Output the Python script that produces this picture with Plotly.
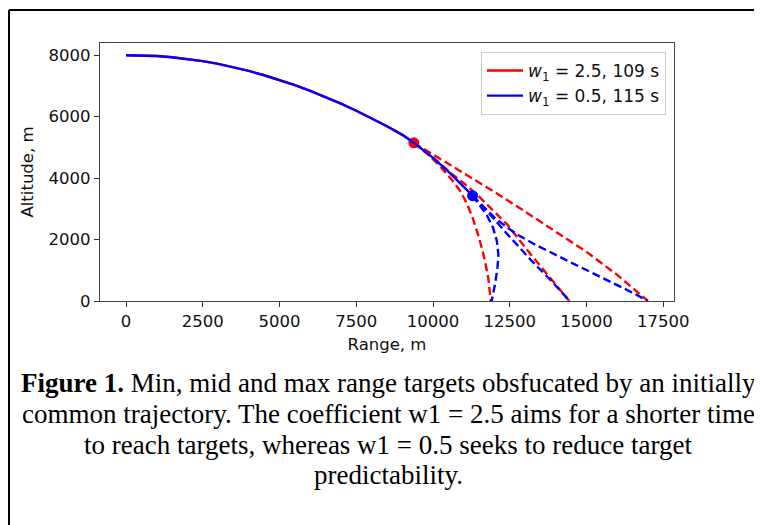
import plotly.graph_objects as go

# ---- data ----
common_x = [0, 500, 1000, 1500, 2000, 2500, 3000, 3500, 4000, 4500, 5000, 5500,
            6000, 6500, 7000, 7500, 8000, 8500, 9000, 9375]
common_y = [8000, 7995, 7975, 7935, 7880, 7810, 7720, 7610, 7490, 7350, 7195, 7025,
            6840, 6640, 6425, 6195, 5950, 5690, 5410, 5150]

blue_solid_x = [9375, 9750, 10000, 10500, 11000, 11287]
blue_solid_y = [5150, 4860, 4660, 4210, 3720, 3429]

red_min_x = [9375, 9800, 10200, 10600, 10900, 11100, 11300, 11500, 11666, 11800, 11880]
red_min_y = [5150, 4800, 4420, 3960, 3560, 3180, 2680, 2050, 1425, 750, 0]
red_mid_x = [9375, 10000, 10524, 11069, 11500, 12000, 12427, 13080, 13622, 14057, 14440]
red_mid_y = [5150, 4680, 4210, 3780, 3400, 2920, 2480, 1643, 994, 451, 0]
red_max_x = [9375, 10000, 11000, 12000, 13000, 14000, 15000, 16000, 17000]
red_max_y = [5150, 4770, 4170, 3550, 2910, 2250, 1600, 850, 0]

blue_min_x = [11287, 11500, 11750, 11950, 12080, 12130, 12100, 12030, 11910]
blue_min_y = [3429, 3150, 2800, 2400, 1950, 1500, 1100, 600, 0]
blue_mid_x = [11287, 11700, 12400, 13200, 13850, 14450]
blue_mid_y = [3429, 3000, 2200, 1320, 660, 0]
blue_max_x = [11287, 11650, 12000, 12400, 12800, 13300, 13900, 14600, 15200, 15700,
              16200, 16600, 16992]
blue_max_y = [3429, 3050, 2720, 2400, 2130, 1850, 1540, 1200, 910, 670, 420, 220, 0]

legend_labels = ["<i>w</i><sub>1</sub> = 2.5, 109 s", "<i>w</i><sub>1</sub> = 0.5, 115 s"]
x_ticks = [0, 2500, 5000, 7500, 10000, 12500, 15000, 17500]
y_ticks = [0, 2000, 4000, 6000, 8000]

caption_lines = [
    "<b>Figure 1.</b> Min, mid and max range targets obsfucated by an initially",
    "common trajectory. The coefficient w1 = 2.5 aims for a shorter time",
    "to reach targets, whereas w1 = 0.5 seeks to reduce target",
    "predictability.",
]

RED = "#ff0000"
BLUE = "#0000ff"
LW = 2.4
DASH = "8px,4px"

fig = go.Figure()

# red
fig.add_trace(go.Scatter(x=common_x, y=common_y, mode="lines", name=legend_labels[0],
                         line=dict(color=RED, width=LW)))
for xs, ys in [(red_min_x, red_min_y), (red_mid_x, red_mid_y), (red_max_x, red_max_y)]:
    fig.add_trace(go.Scatter(x=xs, y=ys, mode="lines", showlegend=False,
                             line=dict(color=RED, width=LW, dash=DASH)))
fig.add_trace(go.Scatter(x=[common_x[-1]], y=[common_y[-1]], mode="markers", showlegend=False,
                         marker=dict(color=RED, size=11)))

# blue
fig.add_trace(go.Scatter(x=common_x + blue_solid_x[1:], y=common_y + blue_solid_y[1:],
                         mode="lines", name=legend_labels[1],
                         line=dict(color=BLUE, width=LW)))
for xs, ys in [(blue_min_x, blue_min_y), (blue_mid_x, blue_mid_y), (blue_max_x, blue_max_y)]:
    fig.add_trace(go.Scatter(x=xs, y=ys, mode="lines", showlegend=False,
                             line=dict(color=BLUE, width=LW, dash=DASH)))
fig.add_trace(go.Scatter(x=[blue_solid_x[-1]], y=[blue_solid_y[-1]], mode="markers",
                         showlegend=False, marker=dict(color=BLUE, size=11)))

# layout geometry (pixels, in window coordinates; page body has an 8px margin)
OFF = 8
W, H = 762 - OFF, 525 - OFF
L, R, T, B = 100 - OFF, 674 - OFF, 42.5 - OFF, 300.6 - OFF
pw, ph = R - L, B - T


def px2paper_x(px):
    return (px - OFF - L) / pw


def px2paper_y(py):
    return (B - (py - OFF)) / ph


axis_font = dict(family="DejaVu Sans", size=16.5, color="#111111")

fig.update_layout(
    width=W, height=H,
    margin=dict(l=L, r=W - R, t=T, b=H - B, pad=0),
    paper_bgcolor="white", plot_bgcolor="white",
    showlegend=True,
    legend=dict(x=px2paper_x(666), y=px2paper_y(51.5), xanchor="right", yanchor="top",
                bgcolor="white", bordercolor="#cccccc", borderwidth=1,
                font=dict(family="DejaVu Sans", size=17, color="#111111"),
                tracegroupgap=0, itemwidth=36),
    xaxis=dict(range=[-850, 17850], tickvals=x_ticks, ticktext=[str(v) for v in x_ticks],
               showgrid=False, zeroline=False, showline=True, linecolor="#444444",
               linewidth=1.2, mirror=True, ticks="outside", ticklen=5, tickcolor="#333333",
               tickfont=axis_font,
               title=dict(text="Range, m", font=axis_font, standoff=8),
               automargin=False),
    yaxis=dict(range=[0, 8400], tickvals=y_ticks, ticktext=[str(v) for v in y_ticks],
               showgrid=False, zeroline=False, showline=True, linecolor="#444444",
               linewidth=1.2, mirror=True, ticks="outside", ticklen=5, tickcolor="#333333",
               tickfont=axis_font,
               title=dict(text="Altitude, m", font=axis_font, standoff=10),
               automargin=False),
)

# outer border of the figure box (top and left edges; the others lie outside the view)
bx0, by0 = px2paper_x(9), px2paper_y(9.5)
fig.add_shape(type="line", xref="paper", yref="paper",
              x0=bx0, x1=px2paper_x(800), y0=by0, y1=by0,
              line=dict(color="black", width=2), layer="above")
fig.add_shape(type="line", xref="paper", yref="paper",
              x0=bx0, x1=bx0, y0=by0, y1=px2paper_y(600),
              line=dict(color="black", width=2), layer="above")

# caption
line_centers = [383, 414, 444.5, 475]
for txt, cy in zip(caption_lines, line_centers):
    fig.add_annotation(text=txt, xref="paper", yref="paper",
                       x=px2paper_x(388), y=px2paper_y(cy), xanchor="center", yanchor="middle",
                       showarrow=False,
                       font=dict(family="Liberation Serif", size=27, color="black"))

fig.write_html("out.html")
